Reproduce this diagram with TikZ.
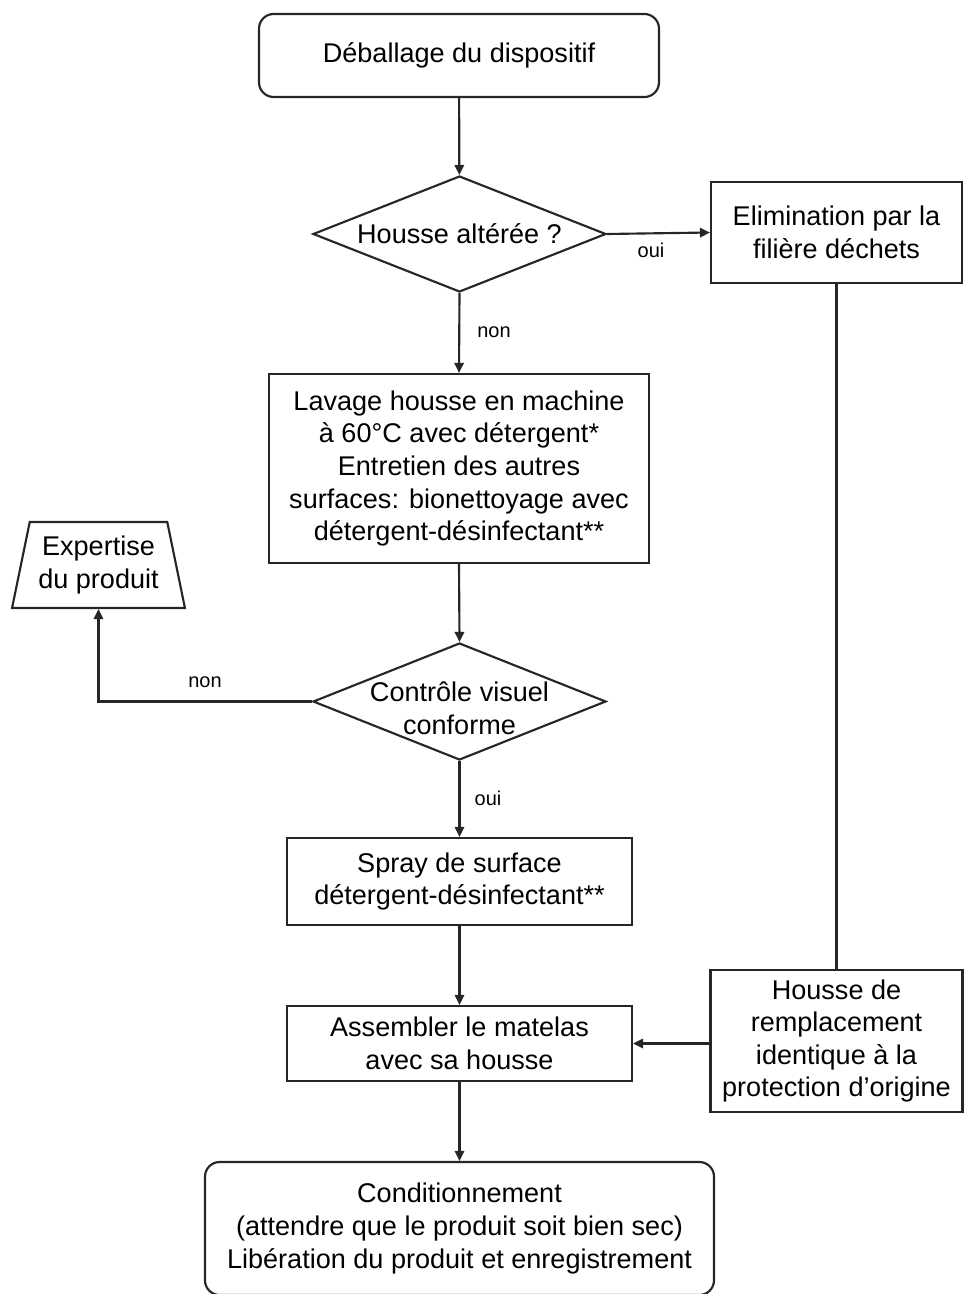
\documentclass[tikz,border=0pt]{standalone}
\usepackage{fontspec}
\setmainfont{Liberation Sans}
\usetikzlibrary{shapes.geometric,arrows.meta}
\newdimen\px \px=0.75pt
\begin{document}
\begin{tikzpicture}[x=0.75pt,y=-0.75pt,
  every node/.style={font=\fontsize{20.3pt}{24.4pt}\selectfont, text=black},
  base/.style={draw=black!85, line width=1.6pt, fill=white, align=center, inner sep=0pt},
  roundbox/.style={base, rounded corners=11pt},
  rectbox/.style={base},
  decision/.style={base, diamond},
  trap/.style={base, trapezium, trapezium stretches=true, trapezium left angle=75, trapezium right angle=75},
  conn/.style={draw=black!85, line width=1.6pt},
  arr/.style={conn, -{Triangle[width=7pt,length=7.5pt]}},
  elabel/.style={font=\fontsize{15pt}{18pt}\selectfont, inner sep=0pt}
]
\useasboundingbox (0,0) rectangle (963,1294);

\node[roundbox, minimum width=400\px, minimum height=83\px] (n1) at (459,55.5) {Déballage du dispositif};
\node[decision, minimum width=293\px, minimum height=116\px,
      label={[align=center]center:Housse altérée ?}] (d1) at (459.5,234) {};
\node[rectbox, minimum width=251\px, minimum height=101\px] (elim) at (836.5,232.5) {Elimination par la\\filière déchets};
\node[rectbox, minimum width=380\px, minimum height=189\px] (lav) at (459,468.5)
  {Lavage housse en machine\\à 60°C avec détergent*\\Entretien des autres\\surfaces: bionettoyage avec\\détergent-désinfectant**};
\node[decision, minimum width=293\px, minimum height=117\px,
      label={[align=center, yshift=-5pt]center:Contrôle visuel\\conforme}] (d2) at (459.5,701.5) {};
\node[trap, minimum width=173\px, minimum height=86\px] (exp) at (98.5,565) {Expertise\\du produit};
\node[rectbox, minimum width=345\px, minimum height=87\px] (spray) at (459.5,881.5) {Spray de surface\\détergent-désinfectant**};
\node[rectbox, minimum width=345\px, minimum height=75\px] (asm) at (459.5,1043.5) {Assembler le matelas\\avec sa housse};
\node[rectbox, minimum width=252\px, minimum height=142\px] (housse) at (836.5,1041) {Housse de\\remplacement\\identique à la\\protection d’origine};
\node[roundbox, minimum width=509\px, minimum height=133\px] (fin) at (459.5,1228.5)
  {Conditionnement\\(attendre que le produit soit bien sec)\\Libération du produit et enregistrement};

\draw[arr] (n1) -- (d1);
\draw[arr] (d1.east) -- (elim.west);
\node[elabel] (loui1) at (651,250) {oui};
\draw[arr] (d1.south) -- (lav.north);
\node[elabel] (lnon1) at (494,332) {non};
\draw[arr] (lav.south) -- (d2.north);
\draw[arr] (d2.west) -| (exp.south);
\node[elabel] (lnon2) at (205,682) {non};
\draw[arr] (d2.south) -- (spray.north);
\node[elabel] (loui2) at (488,798) {oui};
\draw[arr] (spray) -- (asm);
\draw[arr] (asm) -- (fin);
\draw[conn] (elim.south) -- (housse.north);
\draw[arr] (housse.west |- asm.east) -- (asm.east);
\end{tikzpicture}
\end{document}
